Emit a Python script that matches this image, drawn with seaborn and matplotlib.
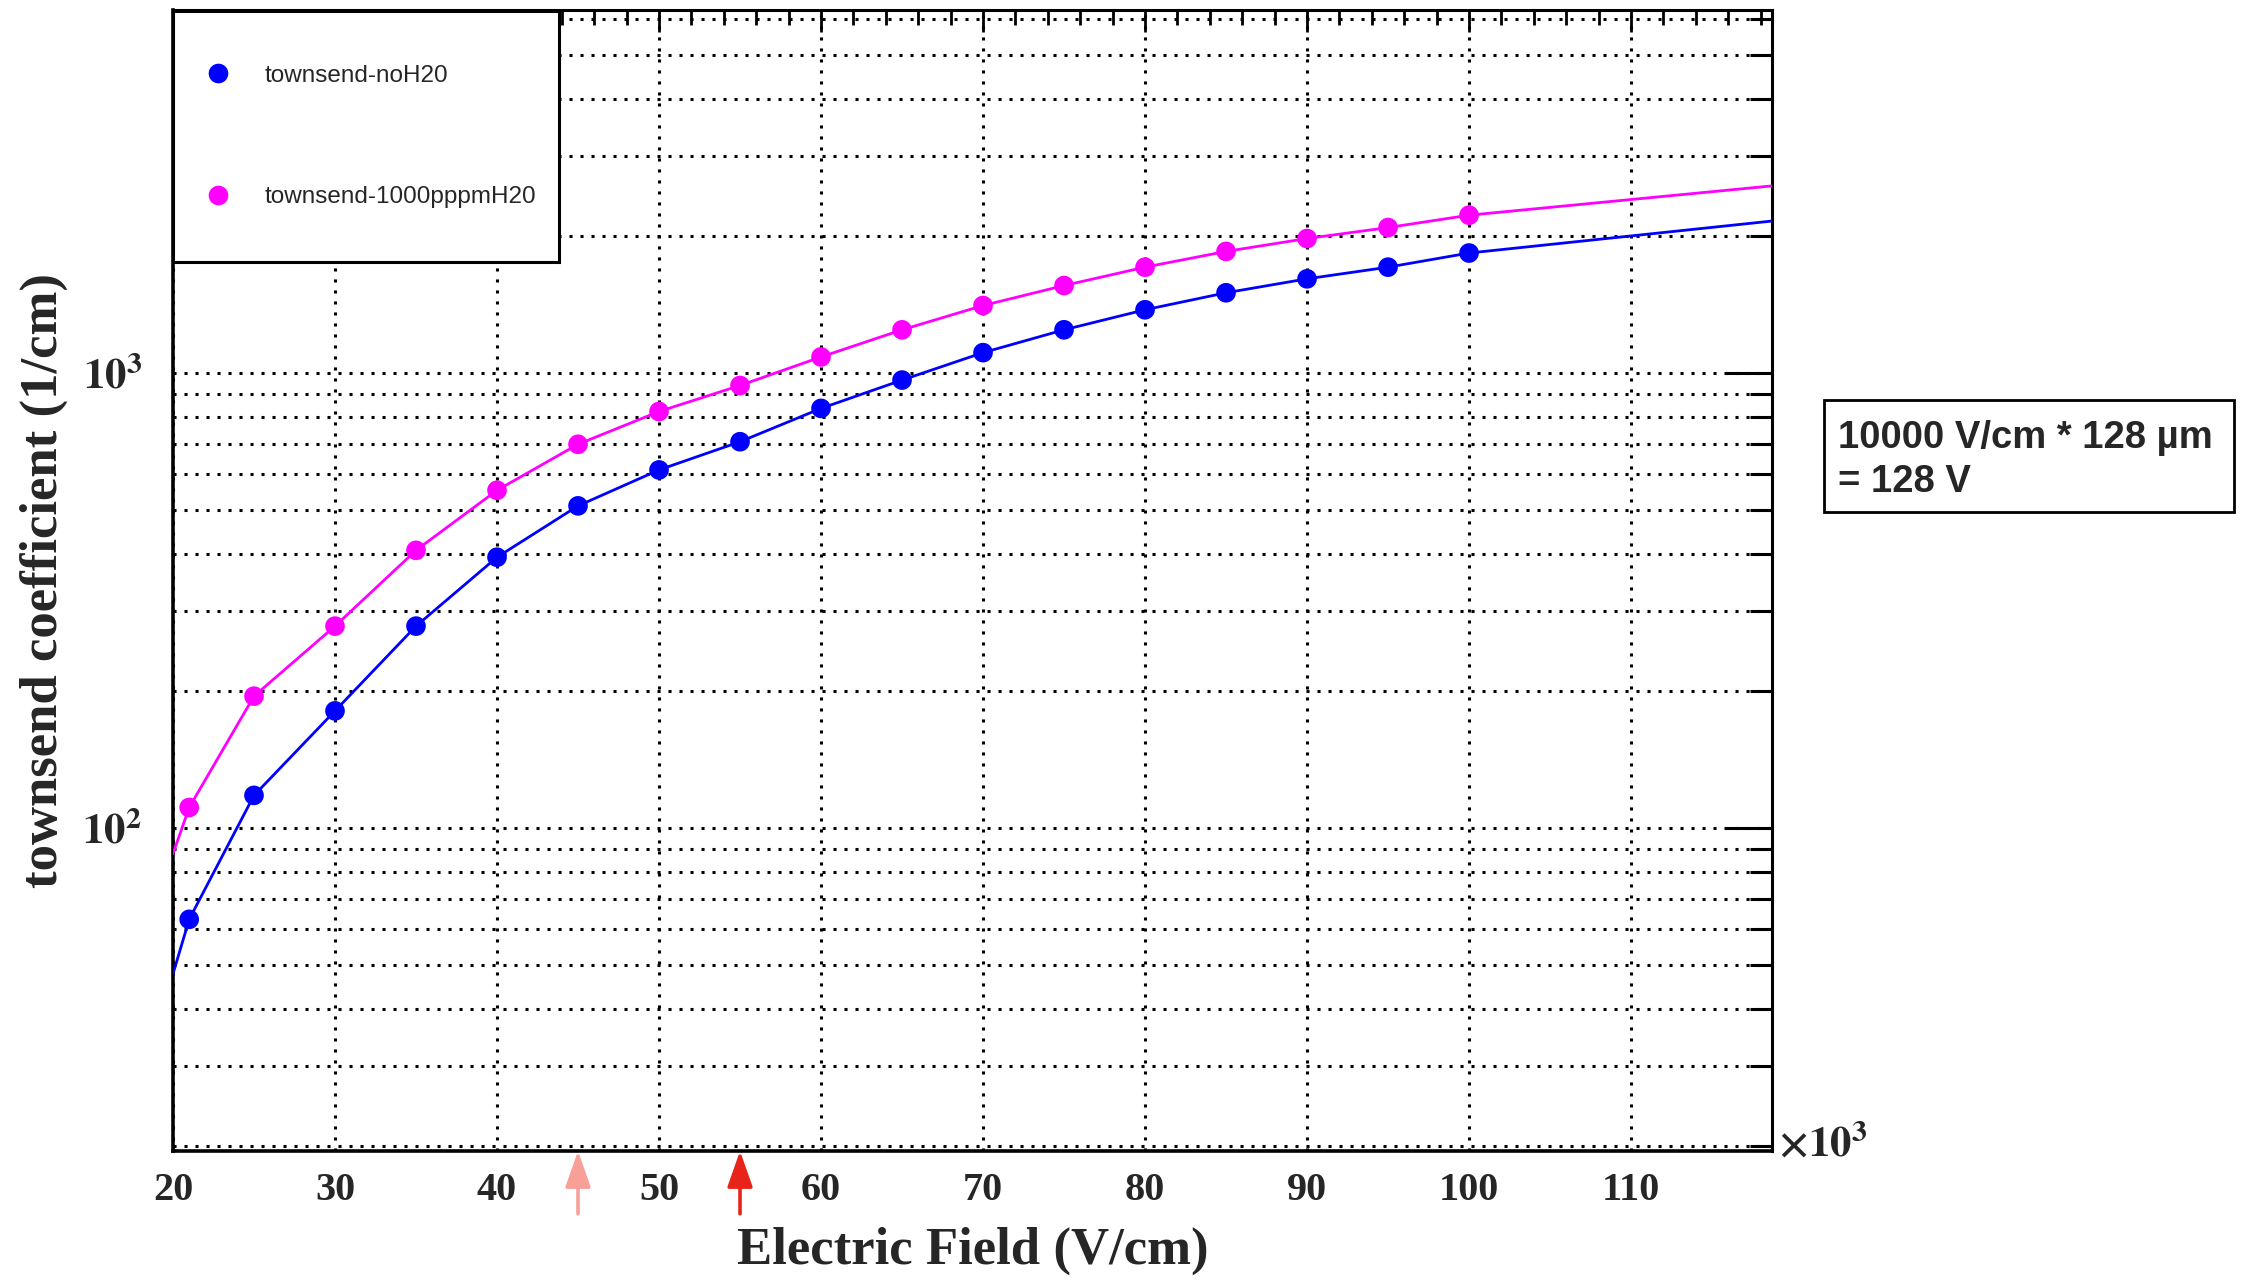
import numpy as np
import pandas as pd
import matplotlib
matplotlib.use("Agg")
import matplotlib.pyplot as plt
import seaborn as sns
from matplotlib.ticker import NullFormatter, FixedLocator
from matplotlib.patches import Rectangle

# ---------------- data ----------------
series_names = ["townsend-noH20", "townsend-1000pppmH20"]
series_colors = ["#0000ff", "#ff00ff"]

# marker points (x in units of 10^3 V/cm)
field_kv = [21, 25, 30, 35, 40, 45, 50, 55, 60, 65, 70, 75, 80, 85, 90, 95, 100]
alpha_noh2o = [63, 118, 181, 278, 394, 511, 613, 707, 837, 966, 1110, 1246,
               1379, 1503, 1613, 1711, 1838]
alpha_1000ppm = [111, 195, 278, 408, 553, 698, 824, 940, 1086, 1246, 1409, 1559,
                 1711, 1853, 1978, 2091, 2226]

# connecting curve (extends past the markers to the frame edges)
line_field = [20] + field_kv + [118.7]
line_noh2o = [47.8] + alpha_noh2o + [2161]
line_1000ppm = [87.8] + alpha_1000ppm + [2582]

x_tick_values = [20, 30, 40, 50, 60, 70, 80, 90, 100, 110]
x_tick_labels = ["20", "30", "40", "50", "60", "70", "80", "90", "100", "110"]
y_tick_values = [100, 1000]
y_tick_labels = [r"$\mathbf{10^{2}}$", r"$\mathbf{10^{3}}$"]

arrow_fields = [45, 55]
arrow_colors = ["#f8a097", "#e8241a"]

note_text = "10000 V/cm * 128 µm\n= 128 V"

# ---------------- frames ----------------
n = len(field_kv)
df_pts = pd.DataFrame({
    "field": field_kv * 2,
    "alpha": alpha_noh2o + alpha_1000ppm,
    "series": [series_names[0]] * n + [series_names[1]] * n,
})
m = len(line_field)
df_line = pd.DataFrame({
    "field": line_field * 2,
    "alpha": line_noh2o + line_1000ppm,
    "series": [series_names[0]] * m + [series_names[1]] * m,
})
palette = dict(zip(series_names, series_colors))

# ---------------- style ----------------
sns.set_style("white")
plt.rcParams["font.family"] = ["Liberation Sans", "DejaVu Sans"]
plt.rcParams["mathtext.fontset"] = "stix"

W, H = 2247, 1280
fig = plt.figure(figsize=(W / 100, H / 100), dpi=100)
L, R, T, B = 173, 1772, 10, 1151
ax = fig.add_axes([L / W, 1 - B / H, (R - L) / W, (B - T) / H])
ax.set_yscale("log")

sns.lineplot(data=df_line, x="field", y="alpha", hue="series", palette=palette,
             linewidth=2.0, sort=False, estimator=None, legend=False, ax=ax, zorder=3)
sns.scatterplot(data=df_pts, x="field", y="alpha", hue="series", palette=palette,
                s=200, edgecolor="none", linewidth=0, ax=ax, zorder=4)
handles, labels = ax.get_legend_handles_labels()
if ax.get_legend() is not None:
    ax.get_legend().remove()

ax.set_xlim(20, 118.7)
ax.set_ylim(19.5, 6290)

# ticks
ax.set_xticks(x_tick_values, labels=x_tick_labels)
ax.xaxis.set_minor_locator(FixedLocator(list(range(22, 120, 2))))
ax.set_yticks(y_tick_values, labels=y_tick_labels)
minor_y = [s * 10 ** d for d in (1, 2, 3) for s in range(2, 10)]
ax.yaxis.set_minor_locator(FixedLocator(minor_y))
ax.yaxis.set_minor_formatter(NullFormatter())

ax.tick_params(which="both", direction="in", top=True, right=True, color="black")
ax.tick_params(axis="x", which="major", length=16, width=2, pad=15)
ax.tick_params(axis="x", which="minor", length=11, width=2)
ax.tick_params(axis="y", which="major", length=34, width=2.2, pad=22)
ax.tick_params(axis="y", which="minor", length=16, width=2.2)

for lab in ax.get_xticklabels():
    lab.set_fontfamily("Liberation Serif")
    lab.set_fontweight("bold")
    lab.set_fontsize(29)
for lab in ax.get_yticklabels():
    lab.set_fontsize(31)

# grid
grid_kw = dict(color="black", linestyle=(0, (1, 2.6)), linewidth=2.2)
ax.grid(which="major", axis="both", **grid_kw)
ax.grid(which="minor", axis="y", **grid_kw)
ax.grid(which="minor", axis="x", visible=False)
ax.set_axisbelow(True)

for side, sp in ax.spines.items():
    sp.set_color("black")
    sp.set_linewidth(2.6 if side in ("left", "bottom") else 2.2)
    sp.set_visible(True)

# axis labels
ax.set_xlabel("Electric Field (V/cm)", fontsize=38, fontweight="bold",
              fontfamily="Liberation Serif")
ax.xaxis.set_label_coords(0.5, -0.0877)
ax.xaxis.label.set_va("center")
ax.set_ylabel("townsend coefficient (1/cm)", fontsize=38, fontweight="bold",
              fontfamily="Liberation Serif")
ax.yaxis.set_label_coords(-0.081, 0.5)
ax.yaxis.label.set_va("center")

# x10^3 multiplier
fig.text(1778 / W, 1 - 1156 / H, r"$\mathbf{\times 10^{3}}$", fontsize=31,
         ha="left", va="baseline")

# arrows under the axis
for xf, col in zip(arrow_fields, arrow_colors):
    ax.annotate("", xy=(xf, 0.0), xycoords=("data", "axes fraction"),
                xytext=(xf, -0.055), textcoords=("data", "axes fraction"),
                arrowprops=dict(arrowstyle="-|>,head_length=0.85,head_width=0.3",
                                color=col, lw=2.6, mutation_scale=26,
                                shrinkA=0, shrinkB=0),
                annotation_clip=False)

# legend box
ax_leg = fig.add_axes([L / W, 1 - 262 / H, (559 - L) / W, (262 - 11) / H])
ax_leg.set_facecolor("white")
ax_leg.set_xticks([])
ax_leg.set_yticks([])
for sp in ax_leg.spines.values():
    sp.set_color("black")
    sp.set_linewidth(2.2)
    sp.set_visible(True)
leg = ax_leg.legend(handles, labels, loc="center left", bbox_to_anchor=(0.085, 0.5),
                    frameon=False, fontsize=17.5, handlelength=1.0, handletextpad=1.4,
                    labelspacing=4.1, borderpad=0, borderaxespad=0, markerscale=1.0)

# note box
fig.add_artist(Rectangle((1824 / W, 1 - 512 / H), 410 / W, 112 / H,
                         transform=fig.transFigure, fill=False, lw=2.0,
                         edgecolor="black"))
fig.text(1838 / W, 1 - 460 / H, note_text, fontsize=27.5, fontweight="bold",
         ha="left", va="center", linespacing=1.28)

fig.savefig("out.png", dpi=100, facecolor="white")
